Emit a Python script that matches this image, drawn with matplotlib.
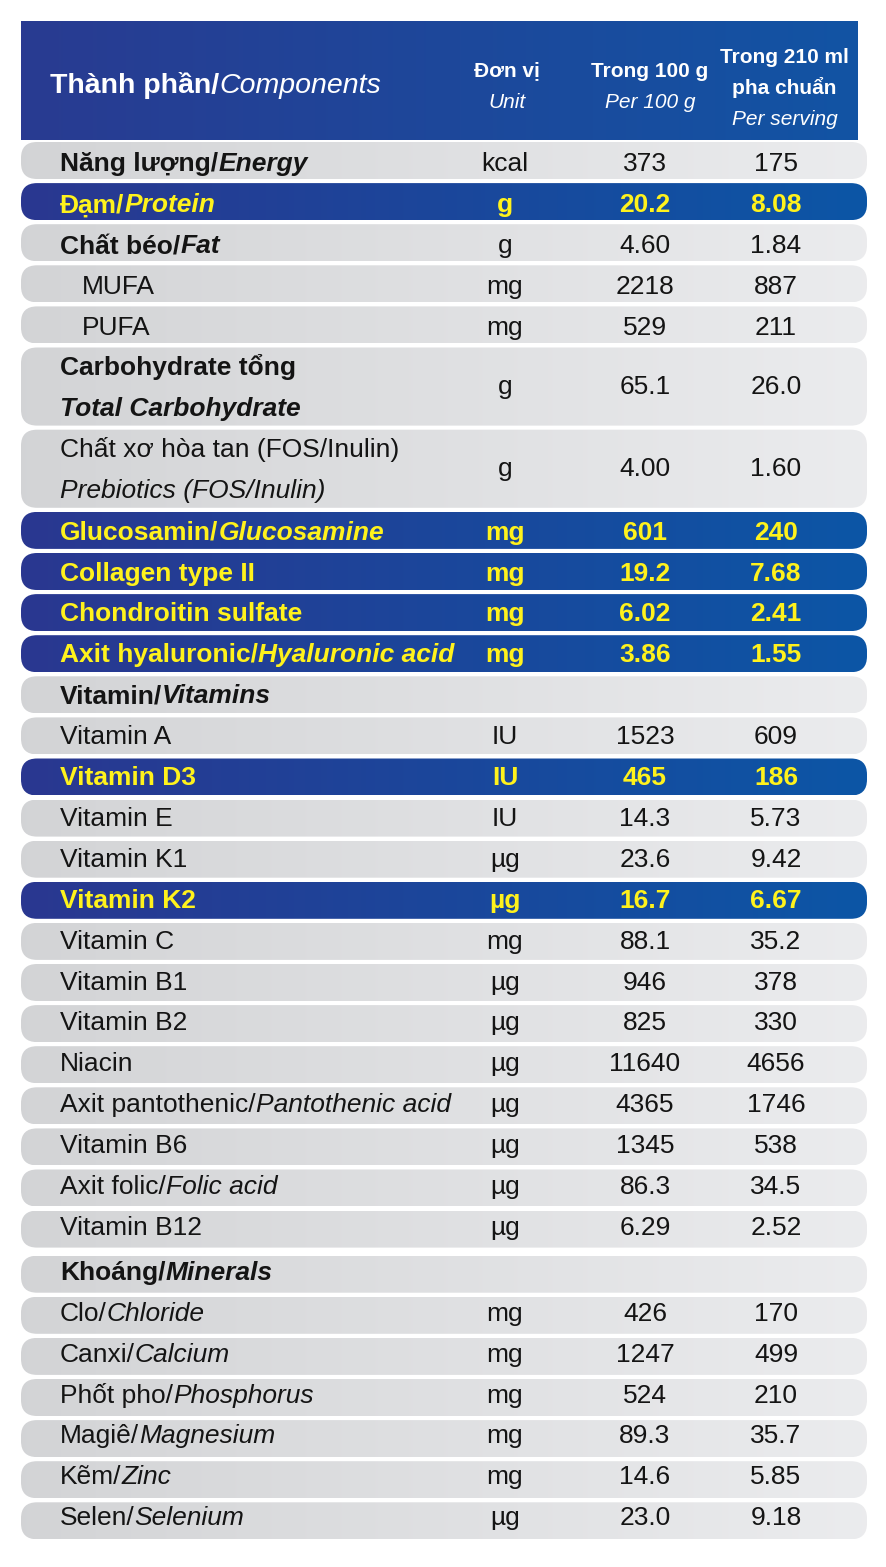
import matplotlib
matplotlib.use("Agg")
import matplotlib.pyplot as plt
import numpy as np
from matplotlib.patches import FancyBboxPatch, Rectangle

plt.rcParams['font.family'] = ['Liberation Sans', 'DejaVu Sans']

# table content
labels_vi = ["Năng lượng/", "Đạm/", "Chất béo/", "MUFA", "PUFA",
             "Carbohydrate tổng", "Chất xơ hòa tan (FOS/Inulin)",
             "Glucosamin/", "Collagen type II", "Chondroitin sulfate",
             "Axit hyaluronic/", "Vitamin/", "Vitamin A", "Vitamin D3",
             "Vitamin E", "Vitamin K1", "Vitamin K2", "Vitamin C",
             "Vitamin B1", "Vitamin B2", "Niacin", "Axit pantothenic/",
             "Vitamin B6", "Axit folic/", "Vitamin B12", "Khoáng/",
             "Clo/", "Canxi/", "Phốt pho/", "Magiê/", "Kẽm/", "Selen/"]
labels_en = ["Energy", "Protein", "Fat", "", "",
             "Total Carbohydrate", "Prebiotics (FOS/Inulin)",
             "Glucosamine", "", "",
             "Hyaluronic acid", "Vitamins", "", "",
             "", "", "", "",
             "", "", "", "Pantothenic acid",
             "", "Folic acid", "", "Minerals",
             "Chloride", "Calcium", "Phosphorus", "Magnesium", "Zinc", "Selenium"]
# b = bold label, h = highlighted, p = plain, s = plain indented
kinds = ["b", "h", "b", "s", "s", "b", "p", "h", "h", "h", "h", "b",
         "p", "h", "p", "p", "h", "p", "p", "p", "p", "p", "p", "p", "p",
         "b", "p", "p", "p", "p", "p", "p"]
n_lines = [1, 1, 1, 1, 1, 2, 2] + [1] * 25
units = ["kcal", "g", "g", "mg", "mg", "g", "g", "mg", "mg", "mg", "mg", "",
         "IU", "IU", "IU", "µg", "µg", "mg", "µg", "µg", "µg", "µg", "µg",
         "µg", "µg", "", "mg", "mg", "mg", "mg", "mg", "µg"]
per_100g = ["373", "20.2", "4.60", "2218", "529", "65.1", "4.00", "601",
            "19.2", "6.02", "3.86", "", "1523", "465", "14.3", "23.6", "16.7",
            "88.1", "946", "825", "11640", "4365", "1345", "86.3", "6.29", "",
            "426", "1247", "524", "89.3", "14.6", "23.0"]
per_serving = ["175", "8.08", "1.84", "887", "211", "26.0", "1.60", "240",
               "7.68", "2.41", "1.55", "", "609", "186", "5.73", "9.42", "6.67",
               "35.2", "378", "330", "4656", "1746", "538", "34.5", "2.52", "",
               "170", "499", "210", "35.7", "5.85", "9.18"]

W, H = 886, 1567
fig = plt.figure(figsize=(W / 100, H / 100), dpi=100)
fig.patch.set_facecolor("white")
ax = fig.add_axes([0, 0, 1, 1])
ax.axis("off")
renderer = fig.canvas.get_renderer()

YELLOW = "#fff21c"
BLACK = "#141414"
GREY_L, GREY_R = (0.827, 0.831, 0.839), (0.922, 0.925, 0.933)
BLUE_L, BLUE_R = (0.165, 0.216, 0.565), (0.047, 0.337, 0.651)
HEAD_L, HEAD_R = (0.161, 0.231, 0.569), (0.071, 0.329, 0.643)


def gradient_box(x0, y0, w, h, c_left, c_right, rounded=True):
    if rounded:
        patch = FancyBboxPatch((x0, y0), w, h,
                               boxstyle="round,pad=0,rounding_size=16",
                               facecolor="none", edgecolor="none")
    else:
        patch = Rectangle((x0, y0), w, h, facecolor="none", edgecolor="none")
    ax.add_patch(patch)
    t = np.linspace(0, 1, 256)[None, :, None]
    cols = (1 - t) * np.array(c_left) + t * np.array(c_right)
    im = ax.imshow(cols, extent=[x0, x0 + w, y0 + h, y0], aspect="auto",
                   interpolation="bilinear", zorder=1)
    im.set_clip_path(patch)


def rich(x, y, parts, size, color):
    # draw pieces of different style one after another on a baseline
    for s, weight, style in parts:
        if not s:
            continue
        t = ax.text(x, y, s, fontsize=size, fontweight=weight, fontstyle=style,
                    color=color, ha="left", va="baseline", zorder=3)
        x += t.get_window_extent(renderer).width


# header
gradient_box(21, 21, 837, 119, HEAD_L, HEAD_R, rounded=False)
rich(50, 93, [("Thành phần/", "bold", "normal"), ("Components", "normal", "italic")],
     20.5, "white")
hdr = dict(color="white", ha="center", va="baseline", fontsize=15, zorder=3)
ax.text(507, 76, "Đơn vị", fontweight="bold", **hdr)
ax.text(507, 108, "Unit", fontstyle="italic", **hdr)
ax.text(650, 77, "Trong 100 g", fontweight="bold", **hdr)
ax.text(650, 108, "Per 100 g", fontstyle="italic", **hdr)
ax.text(784, 63, "Trong 210 ml", fontweight="bold", **hdr)
ax.text(784, 94, "pha chuẩn", fontweight="bold", **hdr)
ax.text(785, 125, "Per serving", fontstyle="italic", **hdr)

# rows
pitch, gap, top0 = 41.1, 4.1, 142
x_unit, x_100, x_serv = 505, 645, 776
size = 19
units_before = 0
for i in range(len(labels_vi)):
    y0 = top0 + units_before * pitch + (4 if i >= 25 else 0)
    h = n_lines[i] * pitch - gap
    units_before += n_lines[i]
    kind = kinds[i]
    if kind == "h":
        gradient_box(21, y0, 846, h, BLUE_L, BLUE_R)
        color = YELLOW
    else:
        gradient_box(21, y0, 846, h, GREY_L, GREY_R)
        color = BLACK
    w1 = "bold" if kind in ("b", "h") else "normal"
    w_val = "bold" if kind == "h" else "normal"
    yc = y0 + h / 2
    base = yc + np.interp(yc, [159, 1520], [11, 4.5])
    x_lab = 82 if kind == "s" else 60
    if n_lines[i] == 2:
        rich(x_lab, base - 21, [(labels_vi[i], w1, "normal")], size, color)
        rich(x_lab, base + 20, [(labels_en[i], w1, "italic")], size, color)
    else:
        rich(x_lab, base, [(labels_vi[i], w1, "normal"),
                           (labels_en[i], w1, "italic")], size, color)
    for xc, s in ((x_unit, units[i]), (x_100, per_100g[i]), (x_serv, per_serving[i])):
        if s:
            ax.text(xc, base - (2 if n_lines[i] == 2 else 0), s, fontsize=size,
                    fontweight=w_val, color=color, ha="center", va="baseline", zorder=3)

ax.set_xlim(0, W)
ax.set_ylim(H, 0)
fig.savefig("out.png", dpi=100)
